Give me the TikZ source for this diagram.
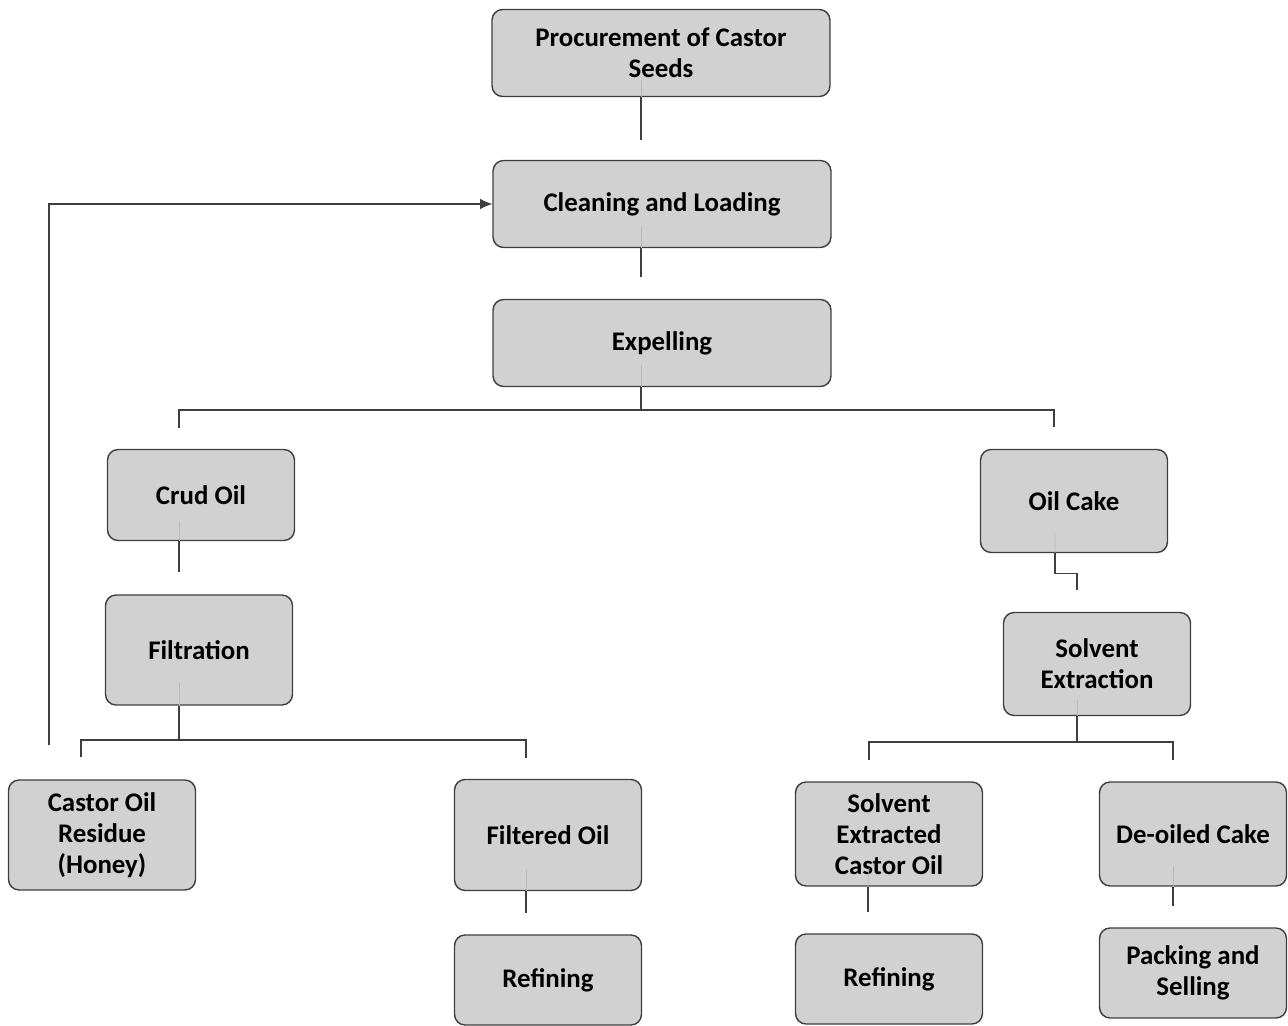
\documentclass[tikz,border=0pt]{standalone}
\usepackage{fontspec}
\setmainfont{Carlito}
\usetikzlibrary{arrows.meta}
\definecolor{boxgray}{RGB}{209,209,209}
\definecolor{edgegray}{RGB}{62,62,62}

\begin{document}
\begin{tikzpicture}[x=0.02cm,y=-0.02cm,
  stage/.style={draw=edgegray, line width=0.8pt, fill=boxgray, rounded corners=6pt, align=center,
    font=\bfseries\fontsize{15.3}{17.6}\selectfont, inner sep=2pt},
  wide/.style={stage, minimum width=6.76cm, minimum height=1.74cm},
  small/.style={stage, minimum width=3.74cm},
  link/.style={edgegray, line width=0.6pt},
  faint/.style={gray!55, line width=0.4pt}]
\useasboundingbox (0,0) rectangle (1288,1026);

% main line
\node[wide] (procure) at (661,53) {Procurement of Castor\\Seeds};
\node[wide] (clean) at (662,204) {Cleaning and Loading};
\node[wide] (expel) at (662,343) {Expelling};

% left branch
\node[small, minimum height=1.82cm] (crude) at (201,495) {Crud Oil};
\node[small, minimum height=2.2cm] (filter) at (199,650) {Filtration};
\node[small, minimum height=2.2cm] (residue) at (102,835) {Castor Oil\\Residue\\(Honey)};
\node[small, minimum height=2.22cm] (filtered) at (548,835) {Filtered Oil};
\node[small, minimum height=1.8cm] (refineA) at (548,980) {Refining};

% right branch
\node[small, minimum height=2.06cm] (cake) at (1074,501) {Oil Cake};
\node[small, minimum height=2.06cm] (solvent) at (1097,664) {Solvent\\Extraction};
\node[small, minimum height=2.08cm] (extracted) at (889,834) {Solvent\\Extracted\\Castor Oil};
\node[small, minimum height=1.8cm] (refineB) at (889,979) {Refining};
\node[small, minimum height=2.08cm] (deoiled) at (1193,834) {De-oiled Cake};
\node[small, minimum height=1.8cm] (pack) at (1193,973) {Packing and\\Selling};

% free ends of the connectors
\coordinate (procureEnd) at (641,140);
\coordinate (cleanEnd) at (641,277);
\coordinate (expelSplit) at (641,410);
\coordinate (crudeTop) at (179,428);
\coordinate (cakeTop) at (1054,427);
\coordinate (crudeEnd) at (179,572);
\coordinate (filterSplit) at (179,740);
\coordinate (residueTop) at (81,757);
\coordinate (filteredTop) at (526,758);
\coordinate (filteredEnd) at (526,913);
\coordinate (back) at (49,745);
\coordinate (cakeEnd) at (1077,590);
\coordinate (solventSplit) at (1077,742);
\coordinate (extractedTop) at (869,760);
\coordinate (deoiledTop) at (1173,760);
\coordinate (extractedEnd) at (868,912);
\coordinate (deoiledEnd) at (1173,906);

\draw[faint] (641,80) -- (procure.south -| procureEnd);
\draw[faint] (641,226) -- (clean.south -| cleanEnd);
\draw[faint] (641,365) -- (expel.south -| expelSplit);
\draw[faint] (179,521) -- (crude.south -| crudeEnd);
\draw[faint] (179,683) -- (filter.south -| filterSplit);
\draw[faint] (526,870) -- (filtered.south -| filteredEnd);
\draw[faint] (1055,533) -- ([xshift=-0.38cm]cake.south);
\draw[faint] (1077,700) -- (solvent.south -| solventSplit);
\draw[faint] (869,868) -- (extracted.south -| extractedEnd);
\draw[faint] (1173,866) -- (deoiled.south -| deoiledEnd);

\draw[link] (procure.south -| procureEnd) -- (procureEnd);
\draw[link] (clean.south -| cleanEnd) -- (cleanEnd);
\draw[link] (expel.south -| expelSplit) -- (expelSplit);
\draw[link] (crudeTop) |- (expelSplit) -| (cakeTop);
\draw[link] (crude.south -| crudeEnd) -- (crudeEnd);
\draw[link] (filter.south -| filterSplit) -- (filterSplit);
\draw[link] (residueTop) |- (filterSplit) -| (filteredTop);
\draw[link] (filtered.south -| filteredEnd) -- (filteredEnd);
\draw[link, -{Latex[length=7pt,width=6pt]}] (back) |- (clean.west);
\draw[link] ([xshift=-0.38cm]cake.south) -- ++(0,20) -| (cakeEnd);
\draw[link] (solvent.south -| solventSplit) -- (solventSplit);
\draw[link] (extractedTop) |- (solventSplit) -| (deoiledTop);
\draw[link] (extracted.south -| extractedEnd) -- (extractedEnd);
\draw[link] (deoiled.south -| deoiledEnd) -- (deoiledEnd);

\end{tikzpicture}
\end{document}
